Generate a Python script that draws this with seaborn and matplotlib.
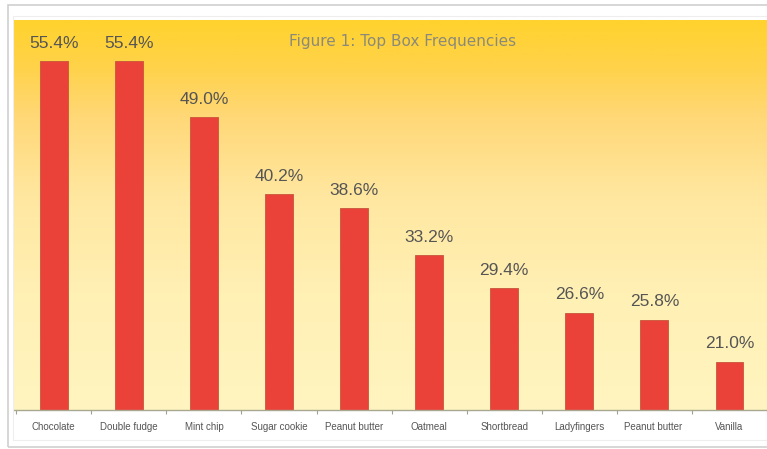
import numpy as np
import pandas as pd
import matplotlib
matplotlib.use("Agg")
import matplotlib.pyplot as plt
from matplotlib.colors import LinearSegmentedColormap
from matplotlib.patches import Rectangle
import seaborn as sns

categories = ["Chocolate", "Double fudge", "Mint chip", "Sugar cookie", "Peanut butter",
              "Oatmeal", "Shortbread", "Ladyfingers", "Peanut butter ", "Vanilla"]
values = [55.4, 55.4, 49.0, 40.2, 38.6, 33.2, 29.4, 26.6, 25.8, 21.0]
title = "Figure 1: Top Box Frequencies"

df = pd.DataFrame({"cat": categories, "val": values})

sns.set_theme(style="white")
plt.rcParams['font.family'] = ['DejaVu Sans']

fig = plt.figure(figsize=(7.67, 4.49), dpi=100)
fig.patch.set_facecolor("white")
# outer frame
fig.patches.append(Rectangle((8/767, 1 - 447/449), 770/767, 442/449, transform=fig.transFigure,
                             fill=False, edgecolor="#cfcfcf", linewidth=1.2))
fig.patches.append(Rectangle((13/767, 1 - 440/449), 760/767, 424/449, transform=fig.transFigure,
                             fill=False, edgecolor="#eeeeee", linewidth=0.8))

ax = fig.add_axes([14/767, 1 - 410/449, 753/767, 390/449])

ymin, ymax = 15.5, 60.1
xmin, xmax = -0.53, 9.5

cmap = LinearSegmentedColormap.from_list("bg", [
    (0.0, "#FFD22E"), (0.12, "#FFD24A"), (0.25, "#FFD878"), (0.45, "#FFE7A0"),
    (0.7, "#FFF0B4"), (1.0, "#FFF5C0")])
grad = np.linspace(0, 1, 256).reshape(-1, 1)
ax.imshow(grad, aspect="auto", cmap=cmap, extent=[xmin, xmax, ymin, ymax],
          zorder=0, origin="upper")

sns.barplot(data=df, x="cat", y="val", color="#EA4139", saturation=1, width=0.37,
            ax=ax, zorder=2, edgecolor="#C8553A", linewidth=0.6)

for i, v in enumerate(values):
    ax.text(i, v + 1.2, f"{v:.1f}%", ha="center", va="bottom", fontsize=12.5,
            color="#555555", zorder=3, family=["Liberation Sans", "DejaVu Sans"])

ax.text(0.516, 0.945, title, transform=ax.transAxes, ha="center", va="center",
        fontsize=11, color="#8a8a7a")

ax.set_xlim(xmin, xmax)
ax.set_ylim(ymin, ymax)
ax.set_xlabel("")
ax.set_ylabel("")
ax.set_yticks([])
ax.set_xticks(range(len(categories)))
ax.set_xticklabels(categories, fontsize=7, color="#555555",
                   family=["Liberation Sans", "DejaVu Sans"])
ax.tick_params(axis="x", which="major", length=0, pad=9)
ax.set_xticks(np.arange(-0.5, 10, 1), minor=True)
ax.tick_params(axis="x", which="minor", length=3, color="#a0a090", width=0.8, bottom=True)
for s in ["top", "right", "left"]:
    ax.spines[s].set_visible(False)
ax.spines["bottom"].set_color("#a8a890")
ax.spines["bottom"].set_linewidth(1.0)

fig.savefig("out.png", dpi=100)
